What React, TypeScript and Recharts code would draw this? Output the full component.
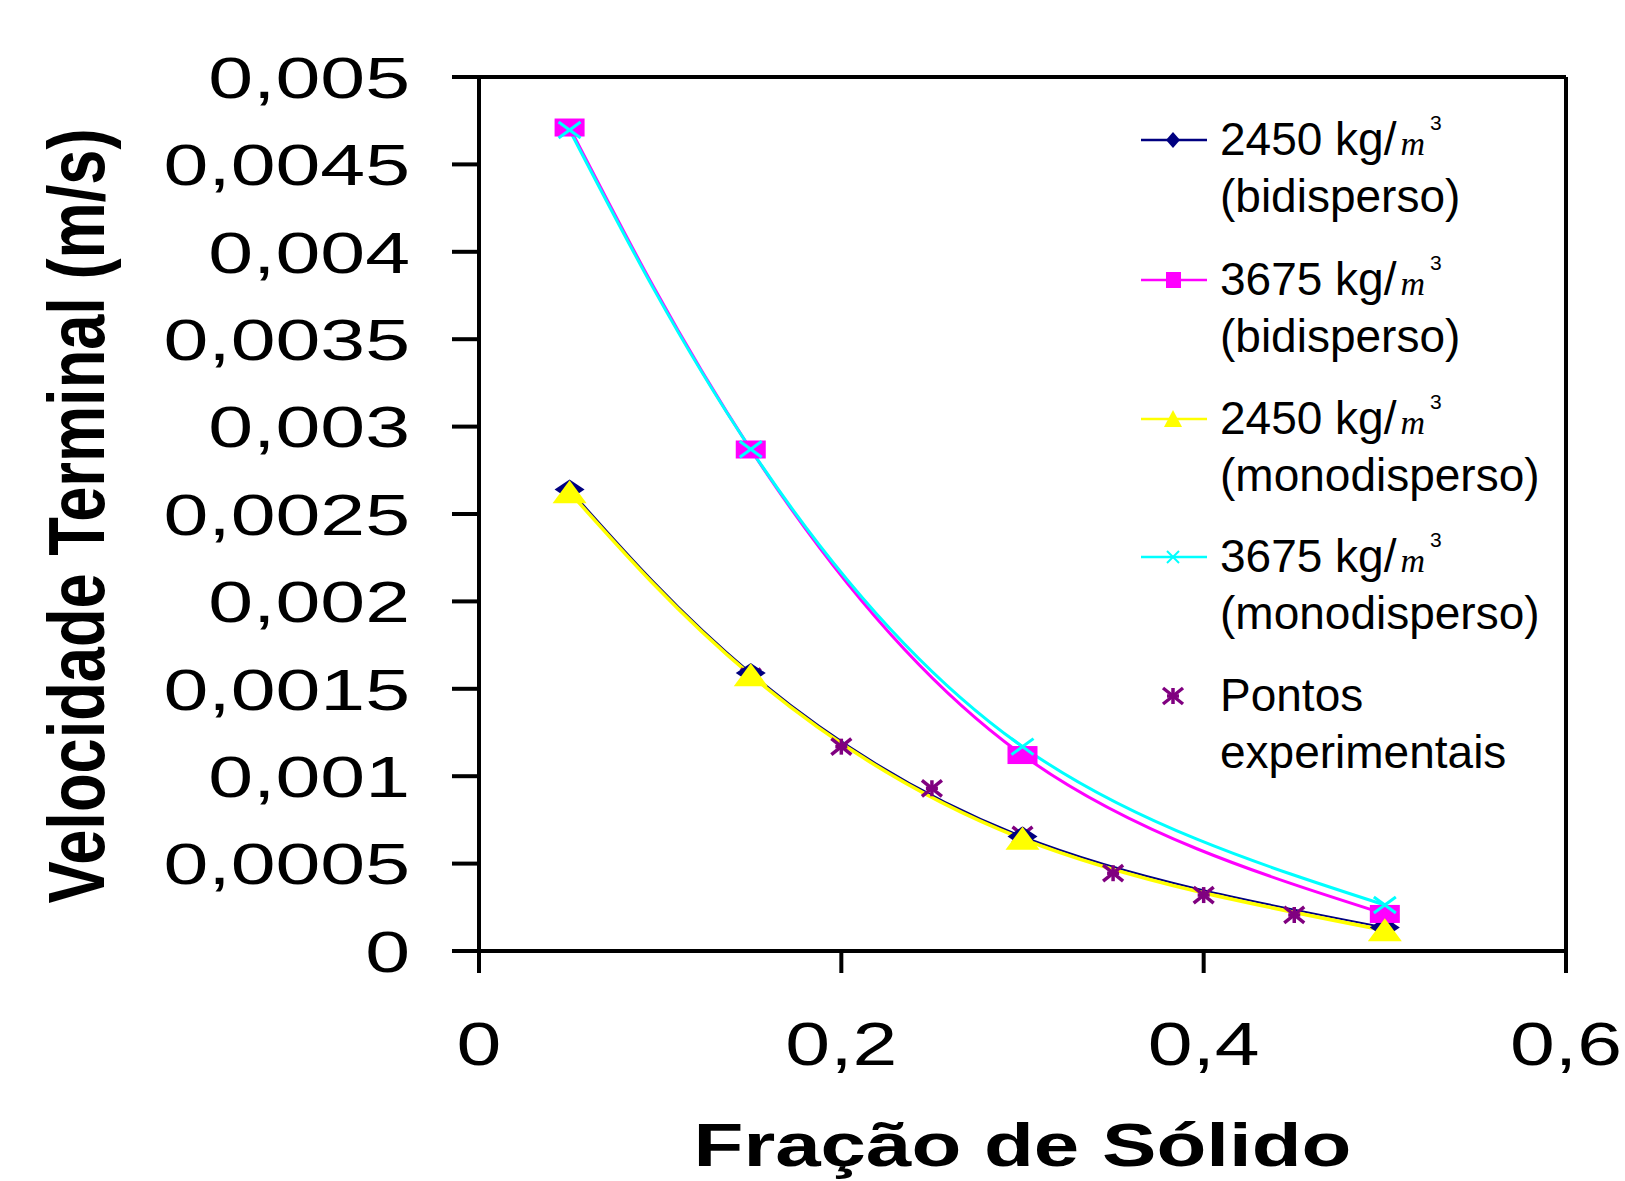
import React from 'react';
import { ComposedChart, Line, Scatter, XAxis, YAxis, Legend, ReferenceLine, Label } from 'recharts';

// ---- data ----
const fractions = [0.05, 0.15, 0.3, 0.5];
const bidisperso2450 = [0.00264, 0.00159, 0.000655, 0.000135];
const bidisperso3675 = [0.004711, 0.002869, 0.001121, 0.000212];
const monodisperso2450 = [0.002625, 0.001578, 0.000642, 0.000118];
const monodisperso3675 = [0.004697, 0.00287, 0.001169, 0.000263];
const expFractions = [0.15, 0.2, 0.25, 0.3, 0.35, 0.4, 0.45, 0.5];
const expValues = [0.001569, 0.001169, 0.000931, 0.000664, 0.000445, 0.00032, 0.000206, 0.00013];

const xTicks = [0, 0.2, 0.4, 0.6];
const xTickLabels = ['0', '0,2', '0,4', '0,6'];
const yTicks = [0, 0.0005, 0.001, 0.0015, 0.002, 0.0025, 0.003, 0.0035, 0.004, 0.0045, 0.005];
const yTickLabels = ['0', '0,0005', '0,001', '0,0015', '0,002', '0,0025', '0,003', '0,0035', '0,004', '0,0045', '0,005'];

const xTitle = 'Fração de Sólido';
const yTitle = 'Velocidade Terminal (m/s)';
const seriesNames = ['2450 kg/', '3675 kg/', '2450 kg/', '3675 kg/'];
const seriesSubs = ['(bidisperso)', '(bidisperso)', '(monodisperso)', '(monodisperso)'];
const expName = ['Pontos', 'experimentais'];

const toPoints = (xs: number[], ys: number[]) => xs.map((x, i) => ({ x, y: ys[i] }));
const dataNavy = toPoints(fractions, bidisperso2450);
const dataMagenta = toPoints(fractions, bidisperso3675);
const dataYellow = toPoints(fractions, monodisperso2450);
const dataCyan = toPoints(fractions, monodisperso3675);
const dataExp = toPoints(expFractions, expValues);

const NAVY = '#000080';
const MAGENTA = '#FF00FF';
const YELLOW = '#FFFF00';
const CYAN = '#00FFFF';
const PURPLE = '#800080';
const FONT = '"Liberation Sans", Arial, sans-serif';

const findLabel = (ticks: number[], labels: string[], v: number) => {
  const i = ticks.findIndex((t) => Math.abs(t - v) < 1e-9);
  return i >= 0 ? labels[i] : String(v).replace('.', ',');
};

const YTick = (props: any) => {
  const { x, y, payload } = props;
  return (
    <g transform={`translate(${x},${y}) scale(1.39,1)`}>
      <text textAnchor="end" dy="0.36em" fontSize={58} fontFamily={FONT} fill="#000">
        {findLabel(yTicks, yTickLabels, payload.value)}
      </text>
    </g>
  );
};

const XTick = (props: any) => {
  const { x, y, payload } = props;
  return (
    <g transform={`translate(${x},${y}) scale(1.3,1)`}>
      <text textAnchor="middle" dy="0.71em" fontSize={62} fontFamily={FONT} fill="#000">
        {findLabel(xTicks, xTickLabels, payload.value)}
      </text>
    </g>
  );
};

const dotDiamond = (p: any) => {
  const { cx, cy } = p;
  if (cx == null || cy == null) return <g key={p.index} />;
  return (
    <polygon key={`d${p.index}`} points={`${cx - 15},${cy} ${cx},${cy - 10} ${cx + 15},${cy} ${cx},${cy + 10}`} fill={NAVY} />
  );
};
const dotSquare = (p: any) => {
  const { cx, cy } = p;
  if (cx == null || cy == null) return <g key={p.index} />;
  return <rect key={`s${p.index}`} x={cx - 15} y={cy - 9} width={30} height={18} fill={MAGENTA} />;
};
const dotTriangle = (p: any) => {
  const { cx, cy } = p;
  if (cx == null || cy == null) return <g key={p.index} />;
  return (
    <polygon key={`t${p.index}`} points={`${cx - 17},${cy + 11} ${cx},${cy - 12} ${cx + 17},${cy + 11}`} fill={YELLOW} />
  );
};
const dotX = (p: any) => {
  const { cx, cy } = p;
  if (cx == null || cy == null) return <g key={p.index} />;
  return (
    <g key={`x${p.index}`} stroke={CYAN} strokeWidth={3}>
      <line x1={cx - 11} y1={cy - 8} x2={cx + 11} y2={cy + 8} />
      <line x1={cx - 11} y1={cy + 8} x2={cx + 11} y2={cy - 8} />
    </g>
  );
};
const Asterisk = (p: any) => {
  const { cx, cy } = p;
  if (cx == null || cy == null) return <g />;
  return (
    <g stroke={PURPLE} strokeWidth={3.5}>
      <line x1={cx - 10} y1={cy - 8} x2={cx + 10} y2={cy + 8} />
      <line x1={cx - 10} y1={cy + 8} x2={cx + 10} y2={cy - 8} />
      <line x1={cx} y1={cy - 8} x2={cx} y2={cy + 8} />
      <line x1={cx - 6} y1={cy} x2={cx + 6} y2={cy} />
    </g>
  );
};

const legendColors = [NAVY, MAGENTA, YELLOW, CYAN];

const LegendMarker = ({ i, cx, cy }: { i: number; cx: number; cy: number }) => {
  if (i === 0)
    return <polygon points={`${cx - 7},${cy} ${cx},${cy - 8} ${cx + 7},${cy} ${cx},${cy + 8}`} fill={NAVY} />;
  if (i === 1) return <rect x={cx - 7} y={cy - 8} width={15} height={16} fill={MAGENTA} />;
  if (i === 2) return <polygon points={`${cx - 9},${cy + 8} ${cx},${cy - 9} ${cx + 9},${cy + 8}`} fill={YELLOW} />;
  return (
    <g stroke={CYAN} strokeWidth={2}>
      <line x1={cx - 6} y1={cy - 6} x2={cx + 6} y2={cy + 6} />
      <line x1={cx - 6} y1={cy + 6} x2={cx + 6} y2={cy - 6} />
    </g>
  );
};

const LegendBox = () => {
  const lineYs = [40, 180, 319, 457];
  return (
    <svg width={450} height={700} style={{ display: 'block' }}>
      {seriesNames.map((name, i) => {
        const ly = lineYs[i];
        return (
          <g key={i}>
            <line x1={11} x2={77} y1={ly} y2={ly} stroke={legendColors[i]} strokeWidth={2.5} />
            <LegendMarker i={i} cx={43} cy={ly} />
            <text x={90} y={ly + 15} fontSize={46} fontFamily={FONT} fill="#000">
              {name}
              <tspan fontFamily='"Liberation Serif", "Times New Roman", serif' fontStyle="italic" fontSize={34} dx={4}>
                m
              </tspan>
              <tspan fontSize={21} dx={5} dy={-25}>
                3
              </tspan>
            </text>
            <text x={90} y={ly + 72} fontSize={46} fontFamily={FONT} fill="#000">
              {seriesSubs[i]}
            </text>
          </g>
        );
      })}
      <Asterisk cx={43} cy={596} />
      <text x={90} y={611} fontSize={46} fontFamily={FONT} fill="#000">
        {expName[0]}
      </text>
      <text x={90} y={668} fontSize={46} fontFamily={FONT} fill="#000">
        {expName[1]}
      </text>
    </svg>
  );
};

const YTitle = (props: any) => {
  const vb = props.viewBox || { x: 0, y: 77, width: 479, height: 874 };
  const cx = vb.x + 104;
  const cy = vb.y + vb.height / 2 + 2;
  return (
    <g transform={`translate(${cx},${cy}) rotate(-90) scale(0.79,1)`}>
      <text textAnchor="middle" fontSize={80} fontWeight="bold" fontFamily={FONT} fill="#000">
        {yTitle}
      </text>
    </g>
  );
};

const XTitle = (props: any) => {
  const vb = props.viewBox || { x: 479, y: 951, width: 1087, height: 230 };
  const cx = vb.x + vb.width / 2;
  return (
    <text
      x={cx}
      y={vb.y + 215}
      textAnchor="middle"
      fontSize={61}
      fontWeight="bold"
      fontFamily={FONT}
      textLength={658}
      lengthAdjust="spacingAndGlyphs"
      fill="#000"
    >
      {xTitle}
    </text>
  );
};

export default function App() {
  return (
    <div style={{ position: 'absolute', left: 0, top: 0, background: '#fff' }}>
      <ComposedChart width={1625} height={1181} margin={{ top: 77, right: 59, bottom: 0, left: 0 }}>
        <XAxis
          dataKey="x"
          type="number"
          domain={[0, 0.6]}
          ticks={xTicks}
          interval={0}
          height={230}
          tickSize={22}
          tickMargin={48}
          tick={<XTick />}
          axisLine={{ stroke: '#000', strokeWidth: 4 }}
          tickLine={{ stroke: '#000', strokeWidth: 4 }}
          allowDataOverflow
        >
          <Label content={<XTitle />} />
        </XAxis>
        <YAxis
          type="number"
          domain={[0, 0.005]}
          ticks={yTicks}
          interval={0}
          width={479}
          tickSize={27}
          tickMargin={42}
          tick={<YTick />}
          axisLine={{ stroke: '#000', strokeWidth: 4 }}
          tickLine={{ stroke: '#000', strokeWidth: 4 }}
          allowDataOverflow
        >
          <Label content={<YTitle />} />
        </YAxis>
        <ReferenceLine y={0.005} stroke="#000" strokeWidth={4} ifOverflow="visible" />
        <ReferenceLine x={0.6} stroke="#000" strokeWidth={4} ifOverflow="visible" />
        <Line data={dataNavy} dataKey="y" type="natural" stroke={NAVY} strokeWidth={2} dot={dotDiamond} activeDot={false} isAnimationActive={false} />
        <Line data={dataMagenta} dataKey="y" type="natural" stroke={MAGENTA} strokeWidth={3} dot={dotSquare} activeDot={false} isAnimationActive={false} />
        <Line data={dataYellow} dataKey="y" type="natural" stroke={YELLOW} strokeWidth={3.5} dot={dotTriangle} activeDot={false} isAnimationActive={false} />
        <Line data={dataCyan} dataKey="y" type="natural" stroke={CYAN} strokeWidth={3} dot={dotX} activeDot={false} isAnimationActive={false} />
        <Scatter data={dataExp} dataKey="y" shape={Asterisk} isAnimationActive={false} />
        <Legend
          layout="vertical"
          align="center"
          verticalAlign="middle"
          content={() => <LegendBox />}
          wrapperStyle={{ position: 'absolute', left: 1130, top: 100, width: 450, height: 700 }}
        />
      </ComposedChart>
    </div>
  );
}
